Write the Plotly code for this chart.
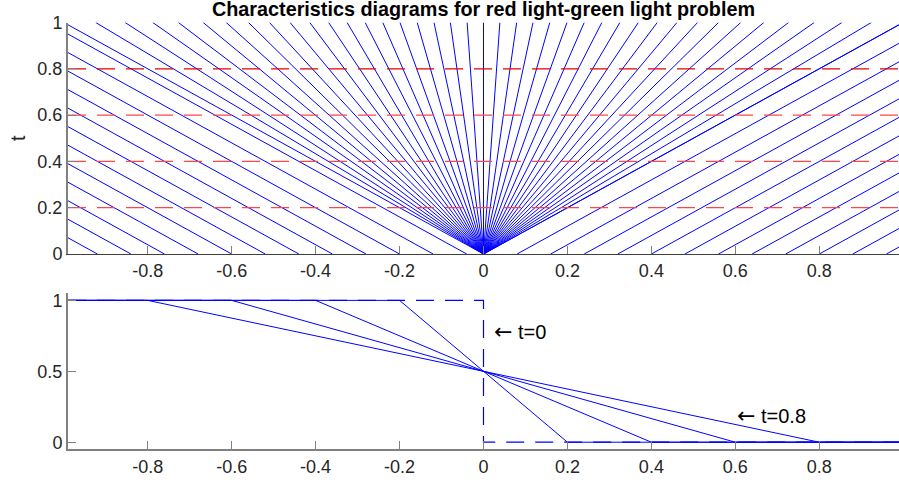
import plotly.graph_objects as go

# ---------------- data ----------------
x_lim = [-0.99, 0.99]
t_end = 1.0

# characteristics starting left of the light (rho=1, speed -1)
left_starts = [-0.92, -0.84, -0.76, -0.68, -0.60, -0.52, -0.44, -0.36, -0.28, -0.20, -0.12, -0.04]
left_speed = -1.0
# characteristics starting right of the light (rho=0, speed +1)
right_starts = [0.0, 0.08, 0.16, 0.24, 0.32, 0.40, 0.48, 0.56, 0.64, 0.72, 0.80, 0.88, 0.96]
right_speed = 1.0
# rarefaction fan speeds (lines through the origin)
fan_speeds = [-1.0, -0.924, -0.854, -0.788, -0.727, -0.668, -0.613, -0.560, -0.510, -0.461,
              -0.414, -0.369, -0.325, -0.282, -0.240, -0.199, -0.158, -0.118, -0.079, -0.039,
              0.0,
              0.039, 0.079, 0.118, 0.158, 0.199, 0.240, 0.282, 0.325, 0.369, 0.414,
              0.461, 0.510, 0.560, 0.613, 0.668, 0.727, 0.788, 0.854, 0.924, 1.0]

# times of the density snapshots (red dashed lines on top, profiles below)
snapshot_times = [0.2, 0.4, 0.6, 0.8]

# initial density (t=0)
init_x = [-0.99, 0.0, 0.0, 0.99]
init_rho = [1.0, 1.0, 0.0, 0.0]
rho_left = 1.0
rho_right = 0.0

top_xticks = [-0.8, -0.6, -0.4, -0.2, 0, 0.2, 0.4, 0.6, 0.8]
top_xticktext = ["-0.8", "-0.6", "-0.4", "-0.2", "0", "0.2", "0.4", "0.6", "0.8"]
top_yticks = [0, 0.2, 0.4, 0.6, 0.8, 1]
top_yticktext = ["0", "0.2", "0.4", "0.6", "0.8", "1"]
bot_yticks = [0, 0.5, 1]
bot_yticktext = ["0", "0.5", "1"]

title_text = "Characteristics diagrams for red light-green light problem"

# ---------------- figure ----------------
W, H = 899, 484
BLUE = "#0000ff"
FONT = "Liberation Sans, Arial, Helvetica, sans-serif"
DASH = "18px,11px"

fig = go.Figure()


def char_lines(starts, speed):
    xs, ys = [], []
    for x0 in starts:
        xs += [x0, x0 + speed * t_end, None]
        ys += [0.0, t_end, None]
    return xs, ys


for starts, speed in [(left_starts, left_speed), (right_starts, right_speed)]:
    xs, ys = char_lines(starts, speed)
    fig.add_trace(go.Scatter(x=xs, y=ys, mode="lines", line=dict(color=BLUE, width=1),
                             xaxis="x", yaxis="y", showlegend=False, hoverinfo="skip"))

fx, fy = [], []
for c in fan_speeds:
    fx += [0.0, c * t_end, None]
    fy += [0.0, t_end, None]
fig.add_trace(go.Scatter(x=fx, y=fy, mode="lines", line=dict(color=BLUE, width=1),
                         xaxis="x", yaxis="y", showlegend=False, hoverinfo="skip"))

for t in snapshot_times:
    col = "rgb(225,0,0)" if t == 0.8 else "rgb(255,70,70)"
    fig.add_trace(go.Scatter(x=x_lim, y=[t, t], mode="lines",
                             line=dict(color=col, width=1.2, dash=DASH),
                             xaxis="x", yaxis="y", showlegend=False, hoverinfo="skip"))

# bottom: density profiles
fig.add_trace(go.Scatter(x=init_x, y=init_rho, mode="lines",
                         line=dict(color=BLUE, width=1.2, dash=DASH),
                         xaxis="x2", yaxis="y2", showlegend=False, hoverinfo="skip"))
for t in snapshot_times:
    fig.add_trace(go.Scatter(x=[x_lim[0], -t, t, x_lim[1]],
                             y=[rho_left, rho_left, rho_right, rho_right],
                             mode="lines", line=dict(color=BLUE, width=1),
                             xaxis="x2", yaxis="y2", showlegend=False, hoverinfo="skip"))

x_dom = [68 / W, 1.0]
top_dom = [(H - 254) / H, (H - 22.5) / H]
bot_dom = [(H - 449.3) / H, (H - 293.3) / H]

axis_common = dict(showgrid=False, zeroline=False, zerolinecolor="rgba(0,0,0,0)",
                   zerolinewidth=0, showline=True, ticks="inside",
                   ticklen=8, tickwidth=1, tickcolor="#808080", automargin=False,
                   showspikes=False,
                   tickfont=dict(family=FONT, size=18, color="#262626"))

arrow = '<span style="font-family:DejaVu Sans;font-size:22px">\u2190</span>'

fig.update_layout(
    template="none",
    width=W, height=H,
    margin=dict(l=0, r=0, t=0, b=0, pad=0),
    paper_bgcolor="white", plot_bgcolor="white",
    xaxis=dict(domain=x_dom, range=x_lim, anchor="y", tickvals=top_xticks,
               ticktext=top_xticktext, linecolor="#404040", linewidth=1, **axis_common),
    yaxis=dict(domain=top_dom, range=[0, 1], anchor="x", tickvals=top_yticks,
               ticktext=top_yticktext, linecolor="#808080", linewidth=2, **axis_common),
    xaxis2=dict(domain=x_dom, range=x_lim, anchor="y2", tickvals=top_xticks,
                ticktext=top_xticktext, linecolor="#808080", linewidth=2, **axis_common),
    yaxis2=dict(domain=bot_dom, range=[-0.05, 1.05], anchor="x2", tickvals=bot_yticks,
                ticktext=bot_yticktext, linecolor="#808080", linewidth=2, **axis_common),
    annotations=[
        dict(text="<b>" + title_text + "</b>", xref="paper", yref="paper",
             x=(68 + 899) / 2 / W, y=(H - 9.5) / H, xanchor="center", yanchor="middle",
             showarrow=False, font=dict(family=FONT, size=19.8, color="#000000")),
        dict(text="t", xref="paper", yref="paper", x=18 / W, y=(H - 138) / H,
             xanchor="center", yanchor="middle", textangle=-90, showarrow=False,
             font=dict(family=FONT, size=19.8, color="#262626")),
        dict(text=arrow + " t=0", xref="x2", yref="y2", x=0.02, y=0.78,
             xanchor="left", yanchor="middle", showarrow=False,
             font=dict(family=FONT, size=20, color="#000000")),
        dict(text=arrow + " t=0.8", xref="x2", yref="y2", x=0.6, y=0.185,
             xanchor="left", yanchor="middle", showarrow=False,
             font=dict(family=FONT, size=20, color="#000000")),
    ],
)

fig.write_html("out.html")
